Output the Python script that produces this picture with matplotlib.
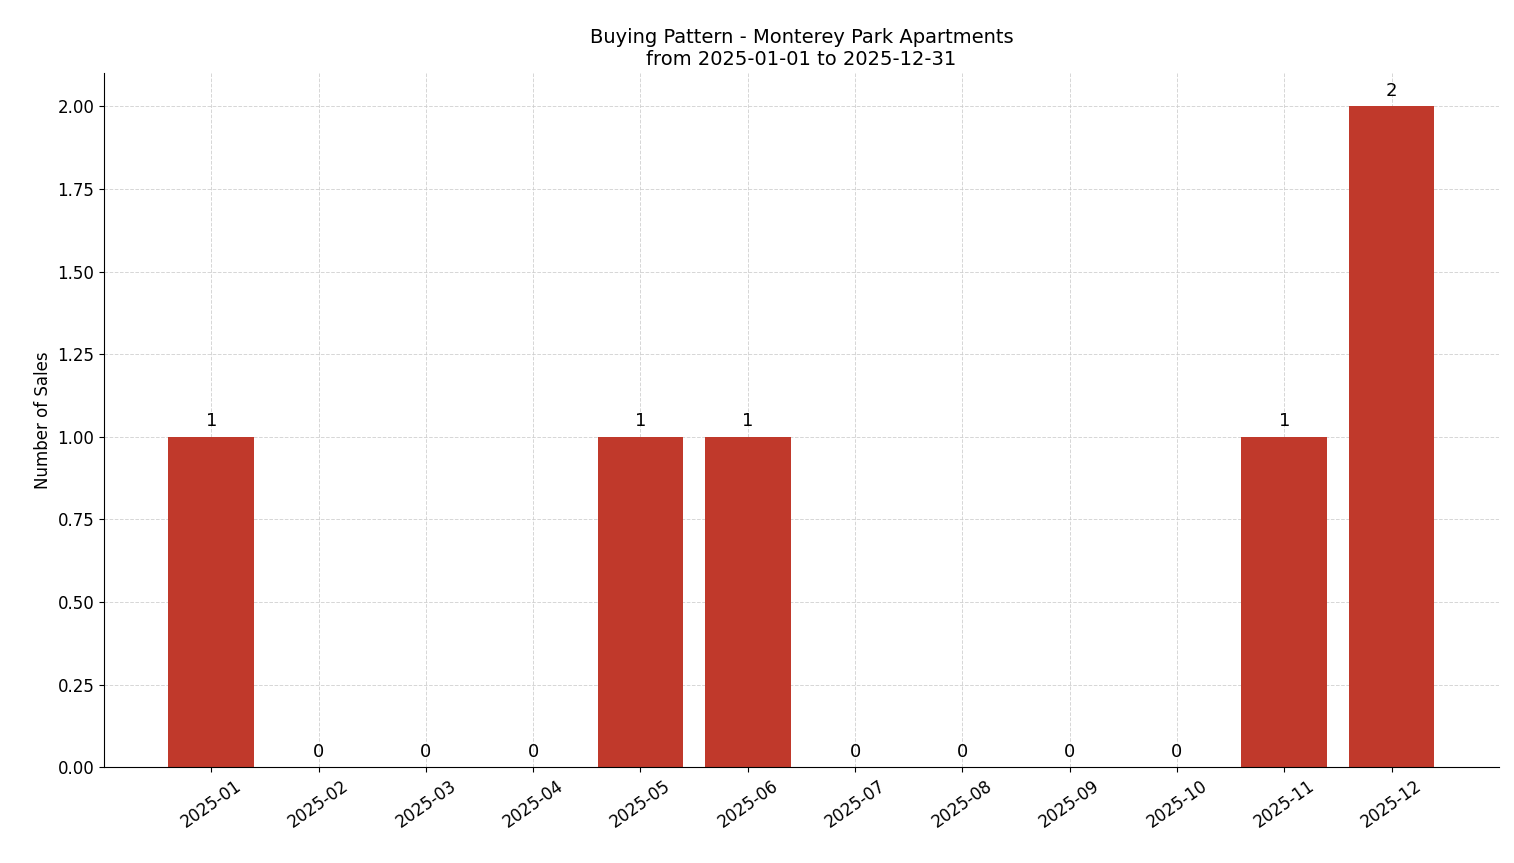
import matplotlib
matplotlib.use("Agg")
import matplotlib.pyplot as plt

months = ["2025-01","2025-02","2025-03","2025-04","2025-05","2025-06",
          "2025-07","2025-08","2025-09","2025-10","2025-11","2025-12"]
sales = [1,0,0,0,1,1,0,0,0,0,1,2]

fig, ax = plt.subplots(figsize=(15.14, 8.63), dpi=100)
fig.subplots_adjust(left=0.0687, right=0.990, top=0.915, bottom=0.111)
x = list(range(len(months)))
bars = ax.bar(x, sales, width=0.8, color="#c0392b", zorder=2)
for xi, v in zip(x, sales):
    ax.text(xi, v + 0.02, str(v), ha="center", va="bottom", fontsize=13)
ax.set_xticks(x)
ax.set_xticklabels(months, rotation=35, fontsize=12)
ax.tick_params(axis="y", labelsize=12)
ax.set_xlim(-1, 12)
ax.set_ylim(0, 2.1)
ax.set_yticks([0, 0.25, 0.5, 0.75, 1.0, 1.25, 1.5, 1.75, 2.0])
ax.set_yticklabels([f"{t:.2f}" for t in ax.get_yticks()])
ax.set_ylabel("Number of Sales", fontsize=12)
ax.set_title("Buying Pattern - Monterey Park Apartments\nfrom 2025-01-01 to 2025-12-31", fontsize=14)
ax.grid(True, linestyle="--", color="#cccccc", alpha=0.8, linewidth=0.7, zorder=0)
ax.spines["top"].set_visible(False)
ax.spines["right"].set_visible(False)
fig.savefig("out.png", dpi=100)
